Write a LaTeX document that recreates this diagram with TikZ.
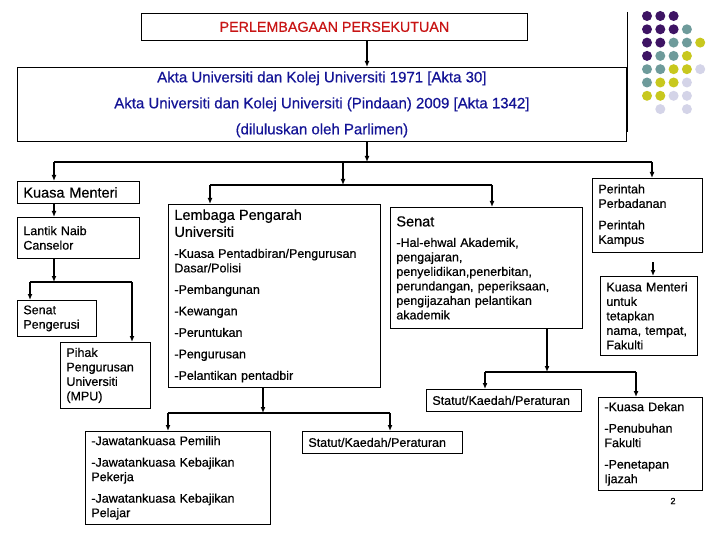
\documentclass[tikz,border=0pt]{standalone}
\usepackage{fontspec}
\setmainfont{Liberation Sans}[FakeBold=0.5]
\usetikzlibrary{arrows.meta}
\definecolor{titlered}{RGB}{200,20,20}
\definecolor{actsblue}{RGB}{20,20,150}
\definecolor{dotP}{RGB}{62,20,100}
\definecolor{dotT}{RGB}{110,155,155}
\definecolor{dotY}{RGB}{200,200,30}
\definecolor{dotL}{RGB}{212,212,232}
\newcommand\txtbody{\fontsize{12.5}{14.5}\selectfont}
\newcommand\txthead{\fontsize{14.5}{17}\selectfont}

\begin{document}
\begin{tikzpicture}[x=1pt,y=-1pt,
  box/.style={draw,line width=0.8pt,anchor=north west,align=left,
    font=\txtbody,inner xsep=6pt,inner ysep=2pt},
  flow/.style={-{Latex[length=6pt,width=5pt]},line width=1.4pt},
  link/.style={line width=1.4pt}]
\useasboundingbox[fill=white] (0,0) rectangle (720,540);
% corner decoration
\draw[line width=1pt] (627,12) -- (627,132);
\foreach \cx/\ry/\col in {0/0/dotP,1/0/dotP,2/0/dotP,
    0/1/dotP,1/1/dotP,2/1/dotP,3/1/dotT,
    0/2/dotP,1/2/dotP,2/2/dotT,3/2/dotT,4/2/dotY,
    0/3/dotP,1/3/dotT,2/3/dotT,3/3/dotY,
    0/4/dotT,1/4/dotT,2/4/dotY,3/4/dotY,4/4/dotL,
    0/5/dotT,1/5/dotY,2/5/dotY,3/5/dotL,
    0/6/dotY,1/6/dotY,2/6/dotL,3/6/dotL,
    1/7/dotL,3/7/dotL}
  \fill[\col] (647+13.3*\cx,16+13.3*\ry) circle (5pt);
% top
\node[box,align=center,minimum width=386pt,minimum height=27pt,
  text=titlered,font=\fontsize{14.3}{17}\selectfont] (title) at (141,13)
  {PERLEMBAGAAN PERSEKUTUAN};
\node[box,align=center,minimum width=609pt,minimum height=74pt,
  text=actsblue,font=\fontsize{15}{17}\selectfont] (acts) at (17,67)
  {Akta Universiti dan Kolej Universiti 1971 [Akta 30]\\[9pt]
   Akta Universiti dan Kolej Universiti (Pindaan) 2009 [Akta 1342]\\[9pt]
   (diluluskan oleh Parlimen)};
% left column
\node[box,text width=110pt,minimum height=22pt,font=\txthead] (menteri)
  at (17,181) {Kuasa Menteri};
\node[box,text width=110pt,minimum height=41pt] (lantik) at (17,217)
  {Lantik Naib\\Canselor};
\node[box,text width=67pt,minimum height=36pt] (senatp) at (17,300)
  {Senat\\Pengerusi};
\node[box,text width=78pt,minimum height=66pt] (pihak) at (60,342)
  {Pihak\\Pengurusan\\Universiti\\(MPU)};
% middle
\node[box,text width=200pt,minimum height=183pt] (lembaga) at (168,204)
  {{\txthead Lembaga Pengarah\\[2.5pt]Universiti}\\[6.5pt]
   -Kuasa Pentadbiran/Pengurusan\\Dasar/Polisi\\[7pt]
   -Pembangunan\\[7pt]-Kewangan\\[7pt]-Peruntukan\\[7pt]
   -Pengurusan\\[7pt]-Pelantikan pentadbir};
\node[box,text width=180pt,minimum height=121pt] (senat) at (390,207)
  {{\txthead Senat}\\[6pt]
   -Hal-ehwal Akademik,\\pengajaran,\\penyelidikan,penerbitan,\\
   perundangan, peperiksaan,\\pengijazahan pelantikan\\akademik};
\node[box,text width=173pt,minimum height=93pt] (jawatan) at (85,431)
  {-Jawatankuasa Pemilih\\[7pt]
   -Jawatankuasa Kebajikan\\Pekerja\\[7pt]
   -Jawatankuasa Kebajikan\\Pelajar};
\node[box,text width=148pt,minimum height=22pt] (statutL) at (302,431)
  {Statut/Kaedah/Peraturan};
\node[box,text width=143pt,minimum height=22pt] (statutR) at (426,389)
  {Statut/Kaedah/Peraturan};
% right column
\node[box,text width=98pt,minimum height=74pt] (perintah) at (592,178)
  {Perintah\\Perbadanan\\[7pt]Perintah\\Kampus};
\node[box,text width=85pt,minimum height=79pt] (menteriFak) at (600,276)
  {Kuasa Menteri\\untuk\\tetapkan\\nama, tempat,\\Fakulti};
\node[box,text width=92pt,minimum height=93pt] (dekan) at (598,397)
  {-Kuasa Dekan\\[7pt]-Penubuhan\\Fakulti\\[7pt]-Penetapan\\Ijazah};
\node[font=\fontsize{9}{10}\selectfont] (pagenum) at (673,501) {2};
% junction points
\coordinate (j1) at (367,162);
\coordinate (a1) at (54,162);
\coordinate (a2) at (343,162);
\coordinate (a3) at (652,162);
\coordinate (j2) at (343,185);
\coordinate (b1) at (210,185);
\coordinate (b2) at (492,185);
\coordinate (c0) at (54,282);
\coordinate (c1) at (30,282);
\coordinate (c2) at (132,282);
\coordinate (d0) at (263,413);
\coordinate (d1) at (168,413);
\coordinate (d2) at (390,413);
\coordinate (e0) at (547,372);
\coordinate (e1) at (485,372);
\coordinate (e2) at (636,372);
\coordinate (f0) at (653,262);
% connectors
\draw[flow] (title.south -| j1) -- (acts.north -| j1);
\draw[flow] (acts.south -| j1) -- (j1);
\draw[link] (a1) -- (a3);
\draw[flow] (a1) -- (a1 |- menteri.north);
\draw[flow] (a3) -- (a3 |- perintah.north);
\draw[flow] (a2) -- (j2);
\draw[link] (b1) -- (b2);
\draw[flow] (b1) -- (b1 |- lembaga.north);
\draw[flow] (b2) -- (b2 |- senat.north);
\draw[flow] (menteri.south -| c0) -- (lantik.north -| c0);
\draw[flow] (lantik.south -| c0) -- (c0);
\draw[link] (c1) -- (c2);
\draw[flow] (c1) -- (c1 |- senatp.north);
\draw[flow] (c2) -- (c2 |- pihak.north);
\draw[flow] (lembaga.south -| d0) -- (d0);
\draw[link] (d1) -- (d2);
\draw[flow] (d1) -- (d1 |- jawatan.north);
\draw[flow] (d2) -- (d2 |- statutL.north);
\draw[flow] (senat.south -| e0) -- (e0);
\draw[link] (e1) -- (e2);
\draw[flow] (e1) -- (e1 |- statutR.north);
\draw[flow] (e2) -- (e2 |- dekan.north);
\draw[flow] (f0) -- (f0 |- menteriFak.north);
\end{tikzpicture}
\end{document}
